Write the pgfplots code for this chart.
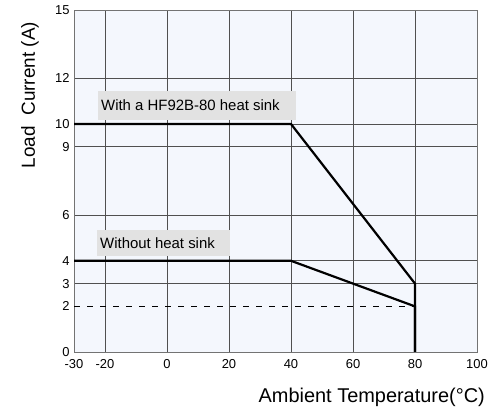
\documentclass[border=0pt]{standalone}
\usepackage{pgfplots}
\pgfplotsset{compat=1.18}
\usepackage{fontspec}
\setmainfont{Liberation Sans}
\definecolor{bgc}{HTML}{F4F7FD}
\definecolor{gridc}{HTML}{505050}
\definecolor{boxc}{HTML}{E2E2E2}
\begin{document}
\begin{tikzpicture}
\begin{axis}[
  at={(74bp,60bp)}, anchor=south west,
  scale only axis, width=403bp, height=342bp,
  xmin=-30, xmax=100, ymin=0, ymax=15,
  xtick={-30,-20,0,20,40,60,80,100},
  ytick={0,3,4,6,9,10,12,15},
  extra y ticks={2}, extra y tick style={grid=none},
  grid=major,
  major grid style={gridc, line width=0.6bp},
  axis line style={gridc!80, line width=0.8bp},
  axis background/.style={fill=bgc},
  major tick length=0pt,
  tick label style={font=\fontsize{13}{15}\selectfont},
  /pgf/number format/assume math mode=true,
  xticklabel style={yshift=-4bp},
  yticklabel style={xshift=-1bp},
  clip=false,
]
\addplot[black, line width=0.7bp, dash pattern=on 6bp off 7bp] coordinates {(-30,2) (80,2)};
\addplot[black, line width=2.2bp] coordinates {(-30,10) (40,10) (80,3) (80,0)};
\addplot[black, line width=2.2bp] coordinates {(-30,4) (40,4) (80,2) (80,0)};
\fill[boxc] (axis cs:-22.3,10.18) rectangle (axis cs:41.6,11.45);
\fill[boxc] (axis cs:-22.6,4.22) rectangle (axis cs:20.3,5.35);
\node[anchor=west, inner sep=0pt, font=\fontsize{15}{17}\selectfont] at (axis cs:-21.3,10.815) {With a HF92B-80 heat sink};
\node[anchor=west, inner sep=0pt, font=\fontsize{15}{17}\selectfont] at (axis cs:-21.6,4.785) {Without heat sink};
\end{axis}
\node[rotate=90, font=\fontsize{19}{22}\selectfont] at (30bp,317bp) {Load\ \ Current (A)};
\node[anchor=east, font=\fontsize{20}{23}\selectfont, inner sep=0pt] at (485bp,15bp) {Ambient Temperature(\textdegree C)};
\pgfresetboundingbox
\path[use as bounding box] (0,0) rectangle (488bp,412bp);
\end{tikzpicture}
\end{document}
